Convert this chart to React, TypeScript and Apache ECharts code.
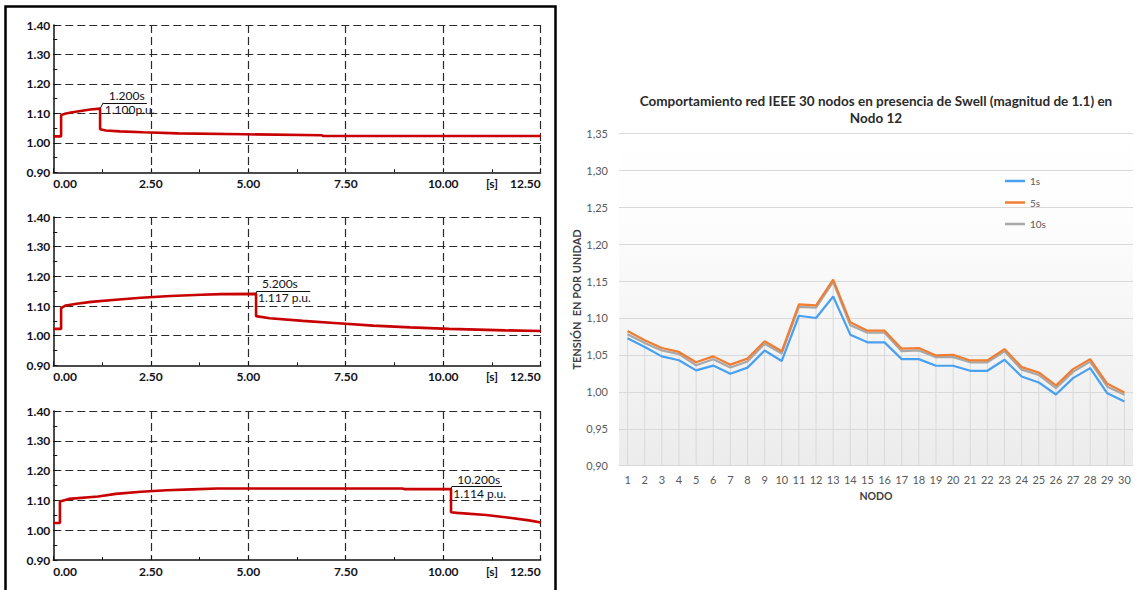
import React, { useEffect, useRef } from "react";
import * as echarts from "echarts";

// ---------- Left panel: time traces (t [s], V [p.u.]) ----------
const trace1s: [number, number][] = [
  [0, 1.022], [0.2, 1.022], [0.2, 1.094], [0.3, 1.099], [0.45, 1.103], [0.7, 1.108],
  [0.95, 1.113], [1.2, 1.116], [1.2, 1.046], [1.35, 1.042], [1.7, 1.039], [2.3, 1.036],
  [2.3, 1.034], [3.2, 1.032], [3.2, 1.03], [4.9, 1.029], [4.9, 1.027], [6.9, 1.026],
  [6.9, 1.023], [12.5, 1.023],
];
const trace5s: [number, number][] = [
  [0, 1.023], [0.2, 1.023], [0.2, 1.093], [0.32, 1.102], [0.6, 1.108], [0.97, 1.114],
  [1.6, 1.121], [2.25, 1.128], [3.0, 1.134], [3.8, 1.138], [4.3, 1.14], [5.2, 1.141],
  [5.2, 1.066], [5.55, 1.059], [6.4, 1.05], [7.3, 1.042], [8.2, 1.034], [9.15, 1.028],
  [10.15, 1.023], [11.6, 1.018], [12.5, 1.016],
];
const trace10s: [number, number][] = [
  [0, 1.024], [0.17, 1.024], [0.17, 1.096], [0.4, 1.105], [1.15, 1.113], [1.6, 1.122],
  [2.25, 1.129], [2.9, 1.134], [3.55, 1.137], [4.2, 1.14], [8.95, 1.14], [9.0, 1.138],
  [10.2, 1.138], [10.2, 1.06], [10.35, 1.058], [11.1, 1.051], [11.7, 1.042], [12.2, 1.033],
  [12.5, 1.026],
];
const traces = [trace1s, trace5s, trace10s];

const annotTimeText = ["1.200s", "5.200s", "10.200s"];
const annotValueText = ["1.100p.u.", "1.117 p.u.", "1.114 p.u."];
const annotPoint: [number, number][] = [[1.2, 1.116], [5.2, 1.141], [10.2, 1.138]];
const annotAnchor: [number, number][] = [[1.28, 1.136], [5.21, 1.149], [10.22, 1.146]];
const annotEnd = [2.4, 6.59, 11.51];

// ---------- Right panel: node voltages ----------
const nodes = [
  "1", "2", "3", "4", "5", "6", "7", "8", "9", "10", "11", "12", "13", "14", "15",
  "16", "17", "18", "19", "20", "21", "22", "23", "24", "25", "26", "27", "28", "29", "30",
];
const v1s = [
  1.0725, 1.0607, 1.048, 1.0427, 1.029, 1.0355, 1.0246, 1.0328, 1.056, 1.0418,
  1.103, 1.1, 1.129, 1.0774, 1.067, 1.067, 1.0443, 1.0443, 1.0353, 1.0353,
  1.0285, 1.0285, 1.0434, 1.0208, 1.0127, 0.9964, 1.0186, 1.0321, 0.998, 0.9869,
];
const v5s = [
  1.0824, 1.0698, 1.0594, 1.054, 1.04, 1.048, 1.0368, 1.045, 1.0684, 1.0549,
  1.1185, 1.1171, 1.1519, 1.0941, 1.0828, 1.0828, 1.0584, 1.0593, 1.0493, 1.0502,
  1.0425, 1.0425, 1.0579, 1.0335, 1.0262, 1.0086, 1.0308, 1.0443, 1.0109, 0.9991,
];
const v10s = [
  1.078, 1.066, 1.056, 1.051, 1.036, 1.044, 1.033, 1.041, 1.065, 1.052,
  1.115, 1.114, 1.149, 1.09, 1.08, 1.08, 1.055, 1.056, 1.047, 1.047,
  1.04, 1.04, 1.055, 1.03, 1.023, 1.005, 1.027, 1.041, 1.007, 0.996,
];
const seriesNames = ["1s", "5s", "10s"];

const FONT = "Lato, 'Open Sans', sans-serif";

export default function App() {
  const ref = useRef<HTMLDivElement>(null);

  useEffect(() => {
    if (!ref.current) return;
    const chart = echarts.init(ref.current, undefined, { renderer: "svg" });

    const leftGrids = [
      { top: 25, height: 147.3 },
      { top: 217, height: 148.4 },
      { top: 411, height: 149 },
    ];
    const gridLeft = 53.3;
    const gridRight = 1138 - 540.7;

    const grid: any[] = leftGrids.map((g) => ({
      left: gridLeft,
      right: gridRight,
      top: g.top,
      height: g.height,
    }));
    grid.push({
      left: 619,
      right: 5,
      top: 133.3,
      height: 332.4,
      show: true,
      borderWidth: 0,
      backgroundColor: {
        type: "linear",
        x: 0, y: 0, x2: 0, y2: 1,
        colorStops: [
          { offset: 0, color: "#ffffff" },
          { offset: 0.25, color: "#fdfdfd" },
          { offset: 1, color: "#ececec" },
        ],
      },
    });

    const darkLine = { color: "#111", width: 1.5 };
    const dashed = { color: "#2a2a2a", type: [8, 4], width: 1.2 };
    const labelDark = "#111118";

    const xAxis: any[] = leftGrids.map((_, i) => ({
      type: "value",
      gridIndex: i,
      min: 0,
      max: 12.5,
      interval: 2.5,
      axisLine: { show: true, onZero: false, lineStyle: darkLine },
      axisTick: { show: true, inside: true, length: 4, lineStyle: { color: "#111" } },
      minorTick: { show: true, splitNumber: 2, length: 3, lineStyle: { color: "#111" } },
      splitLine: { show: true, showMinLine: false, lineStyle: dashed },
      axisLabel: {
        formatter: (v: number) => v.toFixed(2),
        fontFamily: FONT,
        fontWeight: "bold",
        fontSize: 12,
        color: labelDark,
        margin: 5,
        alignMinLabel: "left",
        alignMaxLabel: "right",
      },
    }));
    xAxis.push({
      type: "category",
      gridIndex: 3,
      data: nodes,
      boundaryGap: true,
      axisLine: { show: true, lineStyle: { color: "#d9d9d9" } },
      axisTick: { show: false },
      splitLine: { show: false },
      axisLabel: { interval: 0, fontFamily: FONT, fontSize: 11, color: "#595959", margin: 8 },
      name: "NODO",
      nameLocation: "middle",
      nameGap: 25,
      nameTextStyle: { fontFamily: FONT, fontWeight: "bold", fontSize: 10.5, color: "#404040" },
    });

    const yAxis: any[] = leftGrids.map((_, i) => ({
      type: "value",
      gridIndex: i,
      min: 0.9,
      max: 1.4,
      interval: 0.1,
      axisLine: { show: true, onZero: false, lineStyle: darkLine },
      axisTick: { show: true, inside: true, length: 4, lineStyle: { color: "#111" } },
      minorTick: { show: true, splitNumber: 2, length: 4, lineStyle: { color: "#111" } },
      splitLine: { show: true, showMinLine: false, lineStyle: dashed },
      axisLabel: {
        formatter: (v: number) => v.toFixed(2),
        fontFamily: FONT,
        fontWeight: "bold",
        fontSize: 12,
        color: labelDark,
        margin: 3,
      },
    }));
    yAxis.push({
      type: "value",
      gridIndex: 3,
      min: 0.9,
      max: 1.35,
      interval: 0.05,
      axisLine: { show: false },
      axisTick: { show: false },
      splitLine: { show: true, lineStyle: { color: "#d9d9d9", width: 1 } },
      axisLabel: {
        formatter: (v: number) => v.toFixed(2).replace(".", ","),
        fontFamily: FONT,
        fontSize: 11,
        color: "#595959",
        margin: 11,
      },
      name: "TENSIÓN  EN POR UNIDAD",
      nameLocation: "middle",
      nameGap: 36,
      nameRotate: 90,
      nameTextStyle: { fontFamily: FONT, fontWeight: "bold", fontSize: 11, color: "#404040" },
    });

    const series: any[] = traces.map((tr, i) => ({
      type: "line",
      xAxisIndex: i,
      yAxisIndex: i,
      data: tr,
      symbol: "none",
      silent: true,
      lineStyle: { color: "#c80000", width: 2.6 },
      markLine: {
        silent: true,
        symbol: ["none", "none"],
        label: { show: false },
        emphasis: { disabled: true },
        lineStyle: { color: "#111", width: 1, type: "solid" },
        data: [
          [{ coord: annotAnchor[i] }, { coord: [annotEnd[i], annotAnchor[i][1]] }],
          [{ coord: annotPoint[i] }, { coord: annotAnchor[i] }],
        ],
      },
      markPoint: {
        silent: true,
        symbol: "circle",
        symbolSize: 1,
        itemStyle: { color: "rgba(0,0,0,0)" },
        label: {
          show: true,
          formatter: (p: any) => p.name,
          fontFamily: FONT,
          fontSize: 12,
          color: labelDark,
          align: "left",
        },
        data: [
          {
            name: annotTimeText[i],
            coord: annotAnchor[i],
            label: { position: [6, -1], verticalAlign: "bottom" },
          },
          {
            name: annotValueText[i],
            coord: annotAnchor[i],
            label: { position: [2, 1], verticalAlign: "top" },
          },
        ],
      },
    }));

    series.push({
      type: "bar",
      name: "drop",
      xAxisIndex: 3,
      yAxisIndex: 3,
      data: nodes.map((_, i) => Math.max(v1s[i], v5s[i], v10s[i])),
      barWidth: 1,
      silent: true,
      itemStyle: { color: "#d9d9d9" },
    });
    const colors: Record<string, string> = { "1s": "#48a0f0", "5s": "#f07d32", "10s": "#a8a8a8" };
    const values: Record<string, number[]> = { "1s": v1s, "5s": v5s, "10s": v10s };
    ["1s", "10s", "5s"].forEach((n) => {
      series.push({
        type: "line",
        name: n,
        xAxisIndex: 3,
        yAxisIndex: 3,
        data: values[n],
        symbol: "none",
        showSymbol: false,
        lineStyle: { color: colors[n], width: 2.2 },
        itemStyle: { color: colors[n] },
      });
    });

    const sLabelGraphics = leftGrids.map((g) => ({
      type: "text",
      x: 492,
      y: g.top + g.height + 11,
      style: {
        text: "[s]",
        align: "center",
        verticalAlign: "middle",
        fontFamily: FONT,
        fontWeight: "bold",
        fontSize: 12,
        fill: labelDark,
      },
    }));

    chart.setOption({
      animation: false,
      backgroundColor: "#ffffff",
      grid,
      xAxis,
      yAxis,
      series,
      legend: {
        data: seriesNames,
        orient: "vertical",
        left: 1000,
        top: 170,
        icon: "rect",
        itemWidth: 20,
        itemHeight: 2.5,
        itemGap: 9.5,
        textStyle: { fontFamily: FONT, fontSize: 10, color: "#595959", lineHeight: 12 },
      },
      graphic: [
        {
          type: "rect",
          shape: { x: 5.5, y: 6.5, width: 550, height: 600 },
          style: { fill: "none", stroke: "#000", lineWidth: 2.5 },
          silent: true,
        },
        ...sLabelGraphics,
        {
          type: "text",
          x: 876,
          y: 92,
          style: {
            text: "Comportamiento red IEEE 30 nodos en presencia de Swell (magnitud de 1.1) en\nNodo 12",
            align: "center",
            verticalAlign: "top",
            fontFamily: FONT,
            fontWeight: "bold",
            fontSize: 13.5,
            lineHeight: 17.5,
            fill: "#2b2b2b",
          },
        },
      ],
    });

    return () => chart.dispose();
  }, []);

  return (
    <div
      ref={ref}
      style={{ position: "fixed", left: 0, top: 0, width: 1138, height: 590, background: "#fff" }}
    />
  );
}
